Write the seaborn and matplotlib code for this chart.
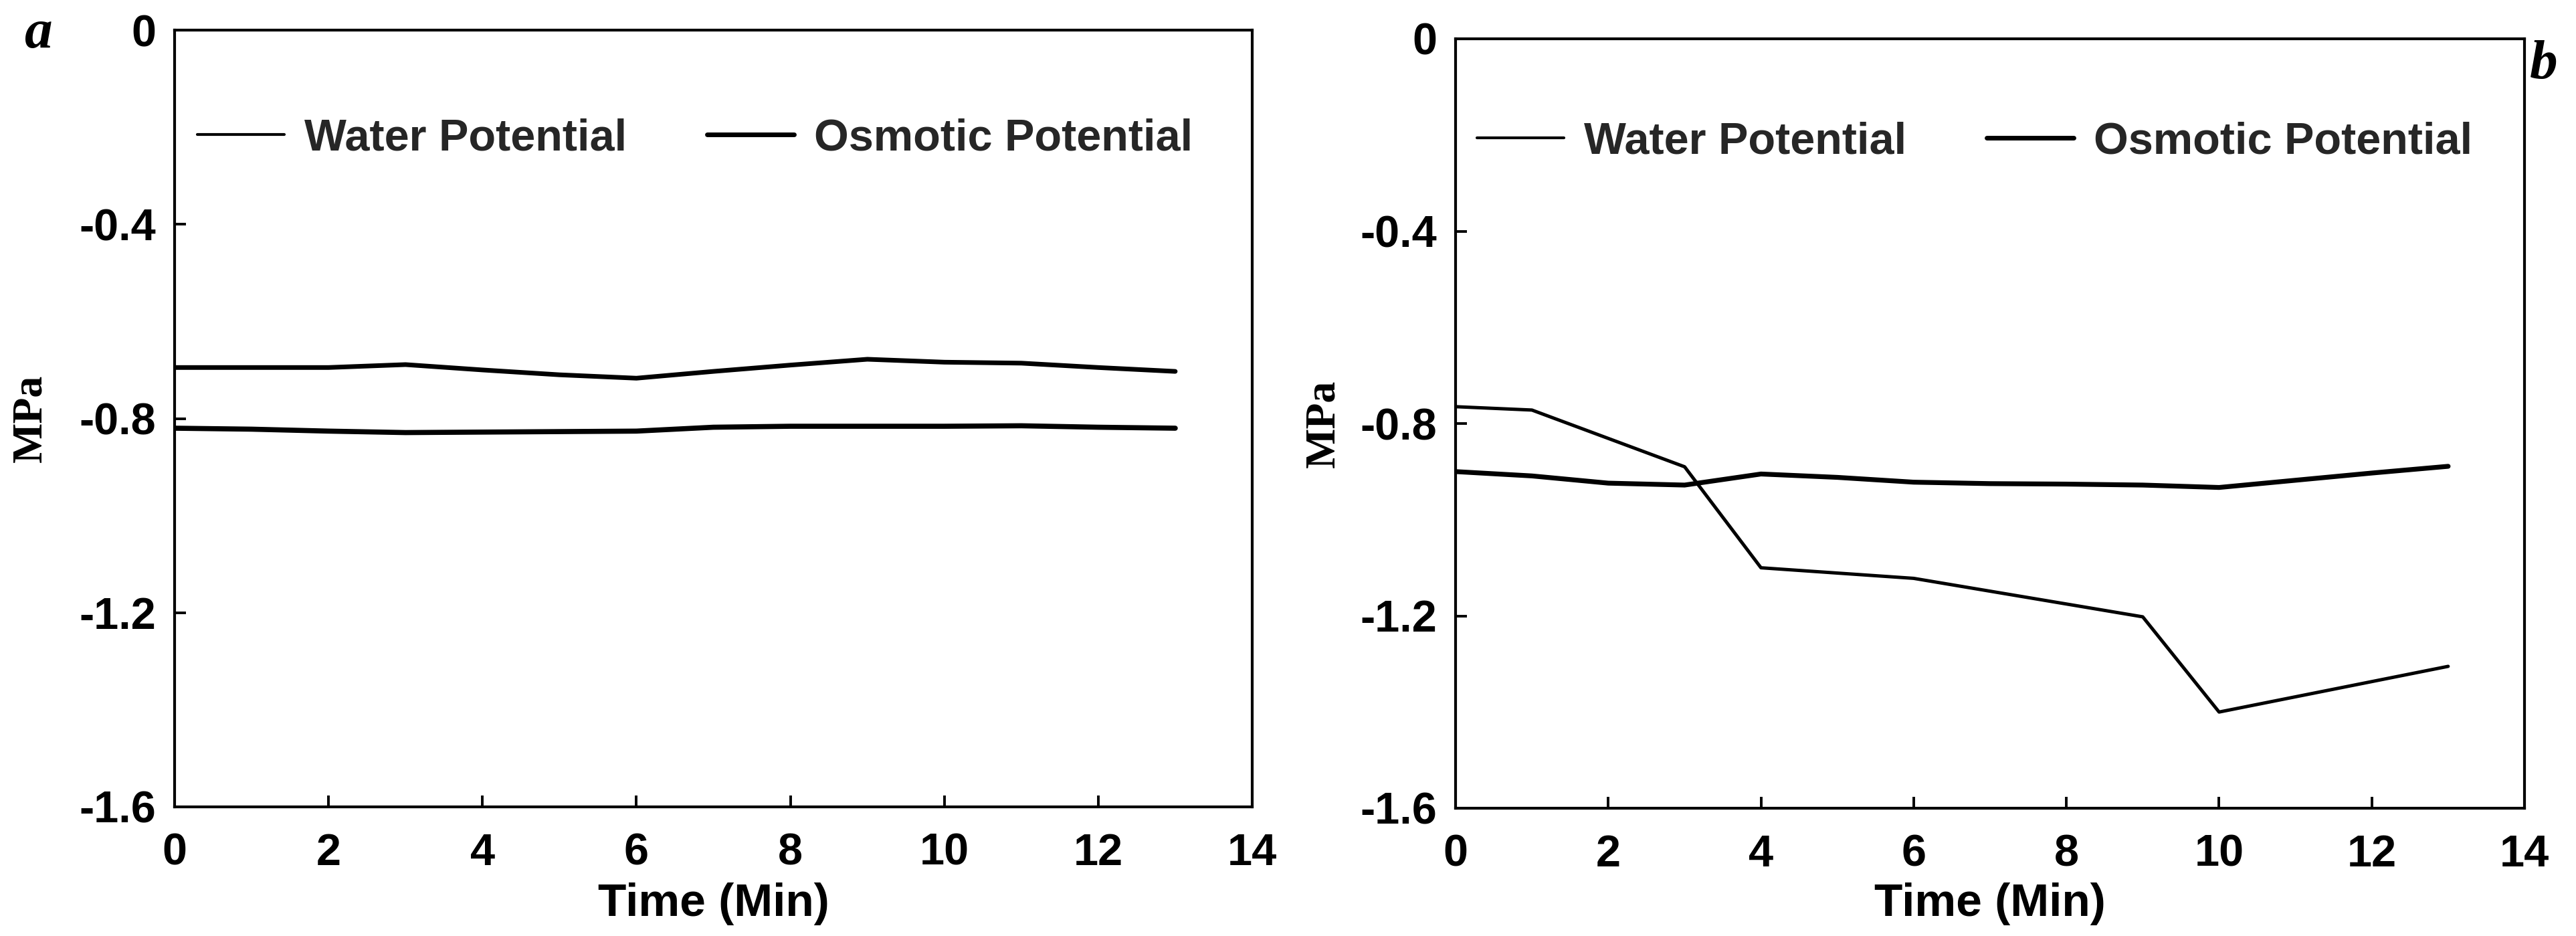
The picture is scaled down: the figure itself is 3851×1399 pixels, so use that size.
import matplotlib
matplotlib.use("Agg")
import matplotlib.pyplot as plt
import seaborn as sns
import pandas as pd

# ---------------- data ----------------
time_a = [0, 1, 2, 3, 4, 5, 6, 7, 8, 9, 10, 11, 12, 13]
water_a = [-0.695, -0.695, -0.695, -0.689, -0.700, -0.710, -0.717,
           -0.703, -0.690, -0.678, -0.684, -0.686, -0.695, -0.703]
osmotic_a = [-0.820, -0.822, -0.826, -0.829, -0.828, -0.827, -0.826,
             -0.818, -0.816, -0.816, -0.816, -0.815, -0.818, -0.820]

time_b_water = [0, 1, 3, 4, 6, 9, 10, 13]
water_b = [-0.765, -0.772, -0.890, -1.100, -1.122, -1.202, -1.400, -1.305]
time_b_osm = [0, 1, 2, 3, 4, 5, 6, 7, 8, 9, 10, 11, 12, 13]
osmotic_b = [-0.900, -0.909, -0.924, -0.928, -0.905, -0.912, -0.922,
             -0.925, -0.926, -0.928, -0.933, -0.918, -0.903, -0.889]

series_names = ["Water Potential", "Osmotic Potential"]
x_ticks = [0, 2, 4, 6, 8, 10, 12, 14]
y_ticks = [0, -0.4, -0.8, -1.2, -1.6]
y_tick_labels = ["0", "-0.4", "-0.8", "-1.2", "-1.6"]
x_label = "Time (Min)"
y_label = "MPa"
panel_labels = ["a", "b"]

# ---------------- style ----------------
sns.set_theme(style="white")
plt.rcParams["font.family"] = ["Liberation Sans", "DejaVu Sans"]
plt.rcParams["font.weight"] = "bold"

W, H = 3851, 1399
fig = plt.figure(figsize=(W / 100, H / 100), dpi=100)
fig.patch.set_facecolor("white")


def frac_axes(l, t, r, b):
    return fig.add_axes([l / W, 1 - b / H, (r - l) / W, (b - t) / H])


ax_a = frac_axes(261, 45, 1872, 1206)
ax_b = frac_axes(2176, 58, 3774, 1208)

df_a_w = pd.DataFrame({"t": time_a, "v": water_a})
df_a_o = pd.DataFrame({"t": time_a, "v": osmotic_a})
df_b_w = pd.DataFrame({"t": time_b_water, "v": water_b})
df_b_o = pd.DataFrame({"t": time_b_osm, "v": osmotic_b})

sns.lineplot(data=df_a_w, x="t", y="v", ax=ax_a, color="black",
             linewidth=5.0, label=series_names[0])
sns.lineplot(data=df_a_o, x="t", y="v", ax=ax_a, color="black",
             linewidth=5.5, label=series_names[1])
sns.lineplot(data=df_b_w, x="t", y="v", ax=ax_b, color="black",
             linewidth=3.6, label=series_names[0])
sns.lineplot(data=df_b_o, x="t", y="v", ax=ax_b, color="black",
             linewidth=5.2, label=series_names[1])

tick_fs = 48
for ax, leg_xy, xlab_y, ylab_x in [
    (ax_a, (0.021, 0.860), -0.0975, -0.1155),
    (ax_b, (0.020, 0.866), -0.0965, -0.105),
]:
    ax.set_xlim(0, 14)
    ax.set_ylim(-1.6, 0)
    ax.set_xticks(x_ticks)
    ax.set_xticklabels([str(v) for v in x_ticks])
    ax.set_yticks(y_ticks)
    ax.set_yticklabels(y_tick_labels)
    ax.tick_params(axis="x", direction="in", length=12, width=2.8,
                   pad=28, labelsize=tick_fs, colors="black",
                   bottom=True, top=False)
    ax.tick_params(axis="y", direction="in", length=12, width=2.8,
                   pad=20, labelsize=tick_fs, colors="black",
                   left=True, right=False)
    for lab in ax.get_xticklabels() + ax.get_yticklabels():
        lab.set_fontweight("bold")
    for sp in ax.spines.values():
        sp.set_visible(True)
        sp.set_linewidth(3.0)
        sp.set_color("black")
    ax.set_xlabel(x_label, fontsize=50, fontweight="bold", color="black")
    ax.xaxis.set_label_coords(0.5, xlab_y)
    ax.set_ylabel(y_label, fontsize=46, fontweight="bold", color="black",
                  family=["Liberation Serif", "DejaVu Serif"])
    ax.yaxis.set_label_coords(ylab_x, 0.50)
    ax.grid(False)
    leg = ax.legend(loc="center left", bbox_to_anchor=leg_xy, ncol=2,
                    frameon=False, fontsize=48, handlelength=1.95,
                    handletextpad=0.45, columnspacing=1.8,
                    borderpad=0, borderaxespad=0)
    for txt in leg.get_texts():
        txt.set_fontweight("bold")
    hs = leg.legend_handles
    hs[0].set_linewidth(3.0)
    hs[1].set_linewidth(5.0)

fig.text(57 / W, 1 - 52 / H, panel_labels[0], fontsize=60, style="italic",
         fontweight="bold", family=["Liberation Serif", "DejaVu Serif"],
         ha="center", va="center", color="black")
fig.text(3803 / W, 1 - 97 / H, panel_labels[1], fontsize=60, style="italic",
         fontweight="bold", family=["Liberation Serif", "DejaVu Serif"],
         ha="center", va="center", color="black")

fig.savefig("out.png", dpi=100, facecolor="white")
